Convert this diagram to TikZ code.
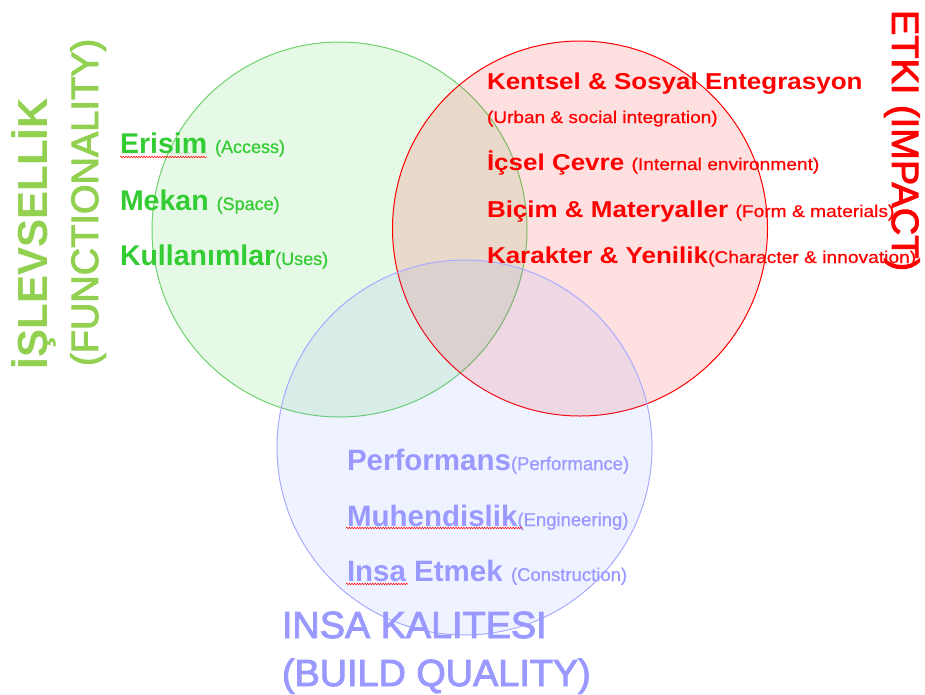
\documentclass[tikz,border=0pt]{standalone}
\usepackage{fontspec}
\setmainfont{Liberation Sans}
\newfontfamily\medfont[FakeBold=2.5]{Liberation Sans}
\newfontfamily\smfont[FakeBold=0.6]{Liberation Sans}
\usetikzlibrary{decorations.pathmorphing}
\definecolor{gtxt}{RGB}{51,204,51}
\definecolor{gtitle}{RGB}{146,208,80}
\definecolor{rtxt}{RGB}{255,0,0}
\definecolor{btxt}{RGB}{153,153,255}
\definecolor{gline}{RGB}{110,210,110}
\definecolor{gfill}{RGB}{51,204,51}
\definecolor{rfill}{RGB}{255,0,0}
\definecolor{bline}{RGB}{170,170,255}
\definecolor{bfill}{RGB}{100,140,255}
\begin{document}
\begin{tikzpicture}[x=1pt,y=-1pt,
  venn/.style={circle, minimum size=375pt, inner sep=0pt, line width=1pt, fill opacity=0.12},
  txt/.style={anchor=base west, inner sep=0pt, outer sep=0pt},
  gitem/.style={txt, text=gtxt, font=\fontsize{28.5}{34}\selectfont\bfseries},
  ritem/.style={txt, text=rtxt, font=\fontsize{23}{28}\selectfont\bfseries},
  bitem/.style={txt, text=btxt, font=\fontsize{29.5}{35}\selectfont\bfseries},
  squig/.style={draw=red, line width=0.5pt, decorate, decoration={snake, amplitude=0.8pt, segment length=2.6pt}}
]
\useasboundingbox (0,0) rectangle (925,694);
\fill[white] (0,0) rectangle (925,694);

% circles
\node[venn, draw=gline, fill=gfill] (gc) at (339.5,229.5) {};
\node[venn, draw=rtxt, fill=rfill] (rc) at (580,228.5) {};
\node[venn, draw=bline, fill=bfill, fill opacity=0.1] (bc) at (464.5,447.5) {};

% green items
\node[gitem] (erisim) at (120,153) {Erisim {\smfont\mdseries\fontsize{18}{22}\selectfont(Access)}};
\node[gitem] (mekan) at (120,210) {Mekan {\smfont\mdseries\fontsize{18}{22}\selectfont(Space)}};
\node[gitem] (kull) at (120,265) {Kullanımlar{\smfont\mdseries\fontsize{18}{22}\selectfont(Uses)}};

% red items
\node[ritem] (kentsel) at (487,89) {\scalebox{1.13}[1]{Kentsel \& Sosyal Entegrasyon}};
\node[ritem] (urban) at (487,123) {\scalebox{1.12}[1]{\smfont\mdseries\fontsize{17}{20}\selectfont(Urban \& social integration)}};
\node[ritem] (icsel) at (487,170) {\scalebox{1.13}[1]{İçsel Çevre {\smfont\mdseries\fontsize{17}{20}\selectfont(Internal environment)}}};
\node[ritem] (bicim) at (487,217) {\scalebox{1.13}[1]{Biçim \& Materyaller {\smfont\mdseries\fontsize{17}{20}\selectfont(Form \& materials)}}};
\node[ritem] (karakter) at (487,263) {\scalebox{1.13}[1]{Karakter \& Yenilik{\smfont\mdseries\fontsize{17}{20}\selectfont(Character \& innovation)}}};

% blue items
\node[bitem] (perf) at (347,470) {Performans{\smfont\mdseries\fontsize{18.5}{22}\selectfont(Performance)}};
\node[bitem] (muh) at (347,526) {Muhendislik{\smfont\mdseries\fontsize{18.5}{22}\selectfont(Engineering)}};
\node[bitem] (insa) at (347,581) {Insa Etmek {\smfont\mdseries\fontsize{18.5}{22}\selectfont(Construction)}};

% titles
\node[txt, text=gtitle, rotate=90, font=\fontsize{42}{48}\selectfont\bfseries] (islev) at (47,369) {İŞLEVSELLİK};
\node[txt, text=gtitle, rotate=90, font=\medfont\mdseries\fontsize{38}{44}\selectfont] (func) at (98,366) {(FUNCTIONALITY)};
\node[txt, text=rtxt, rotate=-90, font=\medfont\mdseries\fontsize{38}{44}\selectfont] (etki) at (892,10) {ETKI (IMPACT)};
\node[txt, text=btxt, font=\medfont\mdseries\fontsize{37.8}{44}\selectfont] (insak) at (282,638) {INSA KALITESI};
\node[txt, text=btxt, font=\medfont\mdseries\fontsize{37.8}{44}\selectfont] (build) at (282,686) {(BUILD QUALITY)};

% spell-check squiggles
\coordinate (s1a) at (120,157); \coordinate (s1b) at (207,157);
\coordinate (s2a) at (346,528); \coordinate (s2b) at (522,528);
\coordinate (s3a) at (346,584); \coordinate (s3b) at (408,584);
\draw[squig] (s1a) -- (s1b);
\draw[squig] (s2a) -- (s2b);
\draw[squig] (s3a) -- (s3b);
\end{tikzpicture}
\end{document}
